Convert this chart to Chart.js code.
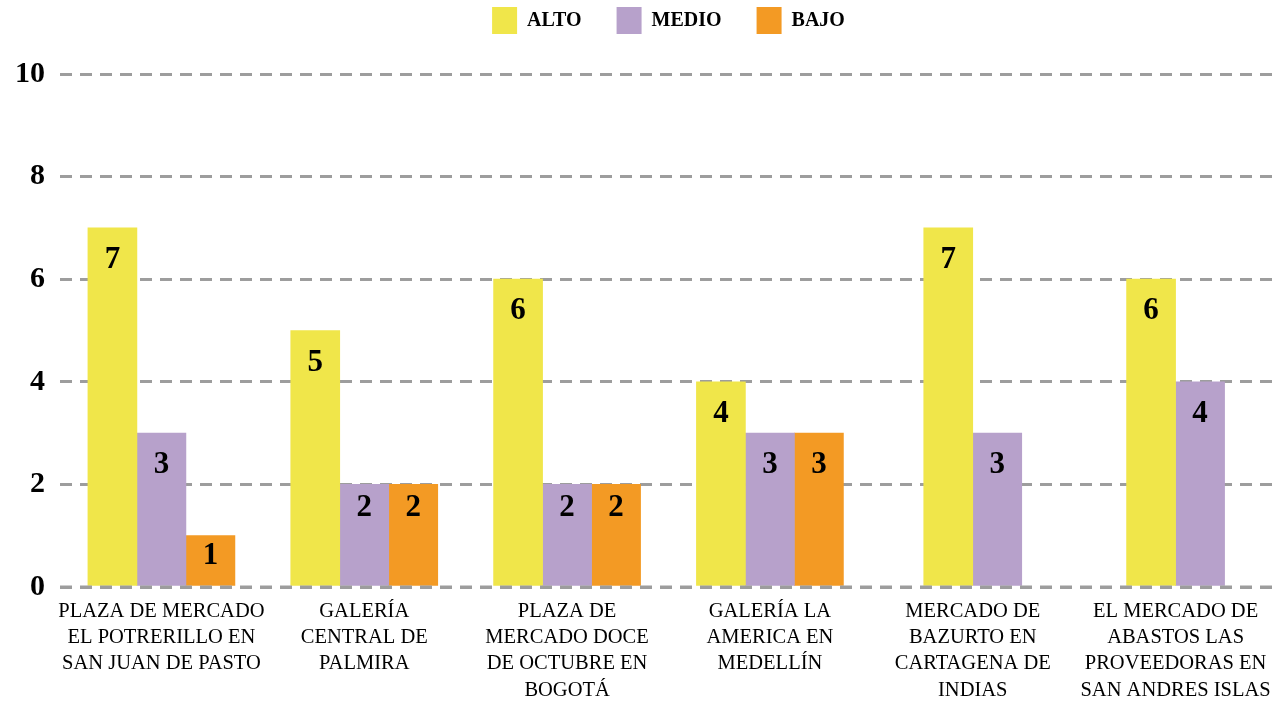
<!DOCTYPE html>
<html>
<head>
<meta charset="utf-8">
<script src="https://cdn.jsdelivr.net/npm/chart.js@4"></script>
<style>
  html, body { margin: 0; padding: 0; background: #fff; }
  #wrap { width: 1277px; height: 701px; }
</style>
</head>
<body>
<div id="wrap"><canvas id="chart"></canvas></div>
<script>
// categorías y valores
const categories = [
  ["PLAZA DE MERCADO", "EL POTRERILLO EN", "SAN JUAN DE PASTO"],
  ["GALERÍA", "CENTRAL DE", "PALMIRA"],
  ["PLAZA DE", "MERCADO DOCE", "DE OCTUBRE EN", "BOGOTÁ"],
  ["GALERÍA LA", "AMERICA EN", "MEDELLÍN"],
  ["MERCADO DE", "BAZURTO EN", "CARTAGENA DE", "INDIAS"],
  ["EL MERCADO DE", "ABASTOS LAS", "PROVEEDORAS EN", "SAN ANDRES ISLAS"]
];
const alto = [7, 5, 6, 4, 7, 6];
const medio = [3, 2, 2, 3, 3, 4];
const bajo = [1, 2, 2, 3, null, null];
const yTicks = [0, 2, 4, 6, 8, 10];

const SERIF = '"Liberation Serif", "Times New Roman", serif';
const GRID = '#9d9d9d';
const LEGEND_PAD = 35;

// etiquetas dentro de las barras + línea del cero encima
const barLabels = {
  id: 'barLabels',
  afterLayout(chart) {
    // subir la leyenda (el padding grande solo sirve para separar los items)
    const lg = chart.legend;
    if (lg) { lg.top -= 30; lg.bottom -= 30; }
  },
  afterDatasetsDraw(chart) {
    const ctx = chart.ctx;
    const y0 = chart.scales.y.getPixelForValue(0);
    ctx.save();
    ctx.strokeStyle = GRID;
    ctx.lineWidth = 3;
    ctx.setLineDash([12, 8]);
    ctx.beginPath();
    ctx.moveTo(chart.chartArea.left, y0);
    ctx.lineTo(chart.chartArea.right, y0);
    ctx.stroke();
    ctx.setLineDash([]);
    ctx.font = 'bold 31px ' + SERIF;
    ctx.fillStyle = '#000';
    ctx.textAlign = 'center';
    ctx.textBaseline = 'middle';
    chart.data.datasets.forEach((ds, i) => {
      chart.getDatasetMeta(i).data.forEach((bar, j) => {
        const v = ds.data[j];
        if (v == null) return;
        const h = bar.base - bar.y;
        const off = h < 60 ? h * 0.4 : (h < 120 ? 24 : 32);
        ctx.fillText(String(v), bar.x, bar.y + off);
      });
    });
    ctx.restore();
  }
};

new Chart(document.getElementById('chart'), {
  type: 'bar',
  data: {
    labels: categories,
    datasets: [
      { label: 'ALTO', data: alto, backgroundColor: '#f0e64a' },
      { label: 'MEDIO', data: medio, backgroundColor: '#b7a1cb' },
      { label: 'BAJO', data: bajo, backgroundColor: '#f39a24' }
    ]
  },
  options: {
    responsive: true,
    maintainAspectRatio: false,
    animation: false,
    skipNull: true,
    barThickness: 49,
    layout: { padding: { top: 2, right: 0, left: 0, bottom: 0 } },
    plugins: {
      tooltip: { enabled: false },
      legend: {
        position: 'top',
        fullSize: false,
        labels: {
          color: '#000',
          boxWidth: 25,
          boxHeight: 27,
          padding: LEGEND_PAD,
          font: { family: SERIF, size: 20, weight: 'bold' }
        }
      }
    },
    scales: {
      x: {
        grid: { display: false },
        border: { display: false },
        ticks: {
          color: '#000',
          maxRotation: 0,
          autoSkip: false,
          padding: 4,
          font: { family: SERIF, size: 20.5, lineHeight: 1.27 }
        },
        afterFit(s) { s.height = 114; }
      },
      y: {
        min: 0,
        max: 10,
        afterBuildTicks(s) { s.ticks = yTicks.map(v => ({ value: v })); },
        grid: {
          color: GRID,
          lineWidth: 3,
          drawTicks: false
        },
        border: { display: false, dash: [12, 8] },
        ticks: {
          color: '#000',
          padding: 15,
          font: { family: SERIF, size: 30, weight: 'bold' }
        },
        afterFit(s) { s.width = 60; }
      }
    }
  },
  plugins: [barLabels]
});
</script>
</body>
</html>
